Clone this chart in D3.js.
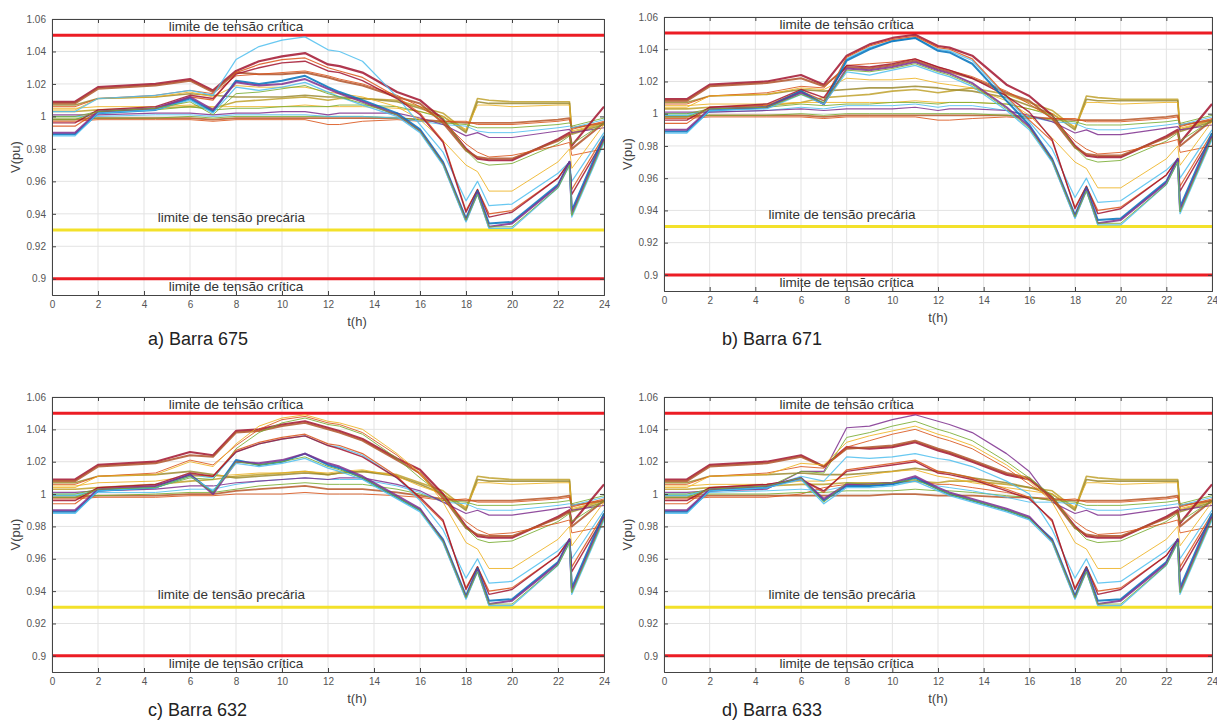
<!DOCTYPE html>
<html>
<head>
<meta charset="utf-8">
<script src="https://cdn.jsdelivr.net/npm/d3@7/dist/d3.min.js"></script>
<style>
  body { margin: 0; background: #fff; }
  text { font-family: "Liberation Sans", Arial, sans-serif; }
</style>
</head>
<body>
<svg id="fig" width="1217" height="720"></svg>
<script>
// hours of the day sampled in the simulation
var hoursDay = [0, 1, 2, 4.5, 6, 7, 8, 9, 10, 11, 12, 12.5, 13.5, 15, 16, 17]
var hoursEvening = [18, 18.5, 19, 20, 22, 22.5, 22.6, 24]

var xTicks = [0, 2, 4, 6, 8, 10, 12, 14, 16, 18, 20, 22, 24]
var yTicks = [0.9, 0.92, 0.94, 0.96, 0.98, 1, 1.02, 1.04, 1.06]

var limitValues = [1.05, 0.93, 0.9]
var limitLabels = ["limite de tensão crítica", "limite de tensão precária", "limite de tensão crítica"]
var captions = ["a) Barra 675", "b) Barra 671", "c) Barra 632", "d) Barra 633"]

// 18h..24h, same in the four buses
var voltsEvening = [
  [0.991, 1.011, 1.010, 1.009, 1.009, 1.009, 0.990, 0.996],
  [0.990, 1.009, 1.008, 1.008, 1.008, 1.008, 0.989, 0.995],
  [0.992, 1.007, 1.007, 1.006, 1.007, 1.007, 0.991, 0.996],
  [0.996, 0.996, 0.996, 0.996, 0.998, 0.999, 0.993, 0.996],
  [0.997, 0.995, 0.995, 0.995, 0.997, 0.998, 0.992, 0.997],
  [0.995, 0.993, 0.993, 0.993, 0.995, 0.996, 0.994, 0.999],
  [0.994, 0.991, 0.990, 0.990, 0.993, 0.994, 0.993, 0.998],
  [0.988, 0.990, 0.987, 0.987, 0.991, 0.992, 0.990, 0.993],
  [0.980, 0.974, 0.973, 0.973, 0.986, 0.990, 0.982, 1.006],
  [0.979, 0.975, 0.974, 0.974, 0.985, 0.989, 0.980, 0.996],
  [0.979, 0.972, 0.970, 0.971, 0.983, 0.988, 0.983, 0.996],
  [0.983, 0.978, 0.975, 0.976, 0.982, 0.984, 0.976, 0.980],
  [0.970, 0.966, 0.954, 0.954, 0.972, 0.980, 0.968, 0.995],
  [0.948, 0.960, 0.945, 0.946, 0.965, 0.972, 0.960, 0.990],
  [0.942, 0.955, 0.940, 0.942, 0.962, 0.972, 0.955, 0.988],
  [0.941, 0.955, 0.938, 0.941, 0.962, 0.972, 0.952, 0.986],
  [0.937, 0.954, 0.934, 0.935, 0.958, 0.972, 0.942, 0.988],
  [0.936, 0.953, 0.932, 0.934, 0.957, 0.972, 0.940, 0.986],
  [0.935, 0.952, 0.931, 0.931, 0.956, 0.970, 0.938, 0.984],
  [0.936, 0.952, 0.932, 0.932, 0.956, 0.970, 0.939, 0.985]
]

// 0h..17h, Barra 675
var voltsA = [
  [1.003, 1.003, 1.004, 1.005, 1.006, 1.005, 1.009, 1.010, 1.011, 1.012, 1.010, 1.011, 1.011, 1.010, 1.006, 1.002],
  [1.007, 1.007, 1.011, 1.012, 1.014, 1.013, 1.012, 1.012, 1.012, 1.013, 1.012, 1.012, 1.011, 1.009, 1.005, 1.000],
  [1.005, 1.005, 1.006, 1.006, 1.007, 1.006, 1.006, 1.006, 1.006, 1.007, 1.006, 1.006, 1.006, 1.005, 1.003, 1.000],
  [0.998, 0.998, 0.999, 0.999, 0.999, 0.998, 0.999, 0.999, 0.999, 0.999, 0.999, 0.999, 0.999, 0.999, 0.998, 0.997],
  [0.997, 0.997, 0.998, 0.998, 0.998, 0.997, 0.998, 0.998, 0.998, 0.998, 0.995, 0.995, 0.997, 0.998, 0.997, 0.997],
  [0.999, 0.999, 0.999, 0.999, 1.000, 0.999, 1.000, 1.000, 1.000, 1.000, 1.000, 1.000, 1.000, 0.999, 0.998, 0.996],
  [1.000, 1.000, 1.000, 1.001, 1.001, 1.000, 1.001, 1.001, 1.001, 1.001, 1.000, 1.000, 1.000, 0.999, 0.997, 0.995],
  [1.001, 1.001, 1.001, 1.002, 1.002, 1.001, 1.002, 1.002, 1.003, 1.003, 1.001, 1.002, 1.002, 1.002, 0.999, 0.995],
  [1.009, 1.009, 1.018, 1.020, 1.023, 1.016, 1.028, 1.034, 1.037, 1.039, 1.032, 1.031, 1.027, 1.015, 1.010, 0.998],
  [1.008, 1.008, 1.017, 1.019, 1.022, 1.015, 1.027, 1.026, 1.026, 1.027, 1.024, 1.022, 1.019, 1.012, 1.008, 0.996],
  [1.000, 1.000, 1.003, 1.004, 1.006, 1.004, 1.005, 1.005, 1.006, 1.006, 1.006, 1.007, 1.007, 1.006, 1.003, 0.999],
  [1.006, 1.006, 1.011, 1.013, 1.016, 1.014, 1.025, 1.026, 1.027, 1.028, 1.025, 1.023, 1.020, 1.013, 1.006, 0.997],
  [1.004, 1.004, 1.011, 1.012, 1.015, 1.012, 1.019, 1.018, 1.018, 1.018, 1.015, 1.014, 1.012, 1.006, 0.998, 0.985],
  [1.003, 1.003, 1.011, 1.013, 1.016, 1.013, 1.035, 1.043, 1.047, 1.049, 1.041, 1.040, 1.034, 1.012, 0.995, 0.978],
  [0.994, 0.994, 1.003, 1.005, 1.012, 1.010, 1.027, 1.032, 1.035, 1.036, 1.030, 1.028, 1.024, 1.012, 1.002, 0.985],
  [0.996, 0.996, 1.004, 1.006, 1.013, 1.011, 1.026, 1.030, 1.033, 1.034, 1.028, 1.027, 1.022, 1.011, 1.001, 0.984],
  [0.989, 0.989, 1.002, 1.004, 1.011, 1.003, 1.022, 1.020, 1.022, 1.025, 1.018, 1.015, 1.010, 1.002, 0.992, 0.972],
  [0.990, 0.990, 1.003, 1.005, 1.012, 1.004, 1.021, 1.019, 1.020, 1.023, 1.017, 1.014, 1.009, 1.001, 0.991, 0.971],
  [0.988, 0.988, 1.002, 1.004, 1.010, 1.002, 1.018, 1.016, 1.018, 1.021, 1.015, 1.012, 1.007, 1.000, 0.990, 0.970],
  [0.998, 0.998, 1.003, 1.005, 1.009, 1.001, 1.014, 1.015, 1.017, 1.019, 1.014, 1.012, 1.008, 1.001, 0.991, 0.971]
]

// 0h..17h, Barra 671
var voltsB = [
  [1.003, 1.003, 1.004, 1.005, 1.007, 1.010, 1.011, 1.012, 1.014, 1.015, 1.013, 1.014, 1.016, 1.012, 1.007, 1.002],
  [1.007, 1.007, 1.011, 1.012, 1.015, 1.014, 1.015, 1.016, 1.016, 1.017, 1.016, 1.015, 1.014, 1.010, 1.005, 1.000],
  [1.005, 1.005, 1.006, 1.006, 1.007, 1.007, 1.007, 1.007, 1.007, 1.008, 1.007, 1.007, 1.007, 1.006, 1.003, 1.000],
  [0.998, 0.998, 0.999, 0.999, 0.999, 0.998, 0.999, 0.999, 0.999, 0.999, 0.999, 0.999, 0.999, 0.999, 0.998, 0.997],
  [0.997, 0.997, 0.998, 0.998, 0.998, 0.997, 0.998, 0.998, 0.998, 0.998, 0.996, 0.996, 0.997, 0.998, 0.997, 0.997],
  [0.999, 0.999, 0.999, 0.999, 1.000, 0.999, 1.000, 1.000, 1.000, 1.000, 1.000, 1.000, 1.000, 0.999, 0.998, 0.996],
  [1.000, 1.000, 1.001, 1.002, 1.004, 1.003, 1.005, 1.005, 1.005, 1.006, 1.004, 1.005, 1.005, 1.002, 0.998, 0.995],
  [1.001, 1.001, 1.001, 1.002, 1.003, 1.002, 1.003, 1.003, 1.003, 1.004, 1.002, 1.003, 1.003, 1.002, 0.999, 0.995],
  [1.009, 1.009, 1.018, 1.020, 1.024, 1.018, 1.036, 1.043, 1.047, 1.049, 1.042, 1.041, 1.036, 1.018, 1.011, 0.999],
  [1.008, 1.008, 1.017, 1.019, 1.022, 1.017, 1.029, 1.028, 1.030, 1.033, 1.028, 1.026, 1.022, 1.013, 1.008, 0.997],
  [1.000, 1.000, 1.003, 1.004, 1.006, 1.005, 1.006, 1.006, 1.007, 1.007, 1.006, 1.007, 1.007, 1.006, 1.003, 0.999],
  [1.006, 1.006, 1.011, 1.013, 1.017, 1.016, 1.030, 1.031, 1.032, 1.034, 1.029, 1.027, 1.023, 1.014, 1.006, 0.997],
  [1.004, 1.004, 1.011, 1.012, 1.016, 1.015, 1.022, 1.021, 1.021, 1.022, 1.019, 1.018, 1.016, 1.008, 0.999, 0.985],
  [0.999, 0.999, 1.002, 1.004, 1.013, 1.008, 1.034, 1.041, 1.045, 1.047, 1.040, 1.039, 1.033, 1.010, 0.995, 0.978],
  [0.994, 0.994, 1.004, 1.005, 1.014, 1.008, 1.035, 1.042, 1.046, 1.048, 1.041, 1.040, 1.034, 1.011, 0.996, 0.983],
  [0.996, 0.996, 1.004, 1.006, 1.015, 1.010, 1.030, 1.029, 1.031, 1.034, 1.029, 1.027, 1.022, 1.011, 1.001, 0.984],
  [0.989, 0.989, 1.002, 1.004, 1.014, 1.006, 1.033, 1.040, 1.045, 1.047, 1.039, 1.038, 1.031, 1.008, 0.993, 0.972],
  [0.990, 0.990, 1.003, 1.004, 1.013, 1.006, 1.028, 1.027, 1.029, 1.032, 1.027, 1.025, 1.019, 1.004, 0.992, 0.971],
  [0.988, 0.988, 1.002, 1.003, 1.012, 1.006, 1.026, 1.024, 1.027, 1.030, 1.025, 1.023, 1.017, 1.002, 0.990, 0.970],
  [0.998, 0.998, 1.003, 1.004, 1.012, 1.007, 1.027, 1.026, 1.028, 1.031, 1.026, 1.024, 1.018, 1.003, 0.991, 0.971]
]

// 0h..17h, Barra 632
var voltsC = [
  [1.003, 1.003, 1.004, 1.006, 1.008, 1.009, 1.011, 1.012, 1.013, 1.014, 1.012, 1.013, 1.014, 1.012, 1.007, 1.002],
  [1.007, 1.007, 1.011, 1.012, 1.014, 1.012, 1.010, 1.011, 1.012, 1.013, 1.012, 1.013, 1.014, 1.011, 1.006, 1.000],
  [1.005, 1.005, 1.007, 1.008, 1.011, 1.011, 1.012, 1.013, 1.013, 1.014, 1.013, 1.014, 1.015, 1.011, 1.005, 1.000],
  [0.998, 0.998, 0.999, 0.999, 1.000, 1.000, 1.002, 1.003, 1.004, 1.005, 1.003, 1.003, 1.003, 1.001, 0.999, 0.997],
  [0.997, 0.997, 0.998, 0.998, 0.999, 0.999, 1.000, 1.000, 1.000, 1.001, 1.000, 1.000, 1.000, 0.999, 0.998, 0.996],
  [0.999, 0.999, 0.999, 1.000, 1.001, 1.001, 1.003, 1.005, 1.006, 1.007, 1.006, 1.006, 1.006, 1.003, 1.000, 0.996],
  [1.000, 1.000, 1.001, 1.001, 1.003, 1.003, 1.006, 1.008, 1.009, 1.010, 1.009, 1.009, 1.009, 1.005, 1.001, 0.995],
  [1.001, 1.001, 1.002, 1.003, 1.005, 1.005, 1.007, 1.008, 1.009, 1.010, 1.009, 1.010, 1.010, 1.006, 1.002, 0.995],
  [1.009, 1.009, 1.018, 1.020, 1.026, 1.024, 1.039, 1.040, 1.043, 1.045, 1.041, 1.039, 1.034, 1.022, 1.015, 1.000],
  [1.008, 1.008, 1.017, 1.019, 1.024, 1.023, 1.038, 1.039, 1.042, 1.044, 1.040, 1.038, 1.033, 1.021, 1.013, 0.998],
  [1.000, 1.000, 1.003, 1.004, 1.010, 1.009, 1.028, 1.038, 1.044, 1.047, 1.043, 1.042, 1.037, 1.022, 1.010, 0.999],
  [1.006, 1.006, 1.011, 1.013, 1.021, 1.018, 1.030, 1.040, 1.046, 1.048, 1.044, 1.043, 1.038, 1.024, 1.012, 0.997],
  [1.004, 1.004, 1.011, 1.012, 1.020, 1.017, 1.031, 1.042, 1.047, 1.049, 1.045, 1.044, 1.040, 1.025, 1.013, 0.995],
  [0.999, 0.999, 1.002, 1.004, 1.012, 1.010, 1.026, 1.031, 1.034, 1.036, 1.030, 1.029, 1.024, 1.010, 0.996, 0.978],
  [0.994, 0.994, 1.004, 1.005, 1.012, 1.011, 1.027, 1.032, 1.035, 1.037, 1.031, 1.030, 1.025, 1.011, 0.997, 0.983],
  [0.996, 0.996, 1.004, 1.006, 1.013, 1.011, 1.026, 1.031, 1.034, 1.036, 1.030, 1.028, 1.023, 1.010, 0.998, 0.984],
  [0.989, 0.989, 1.002, 1.004, 1.012, 1.001, 1.021, 1.018, 1.020, 1.025, 1.018, 1.016, 1.010, 0.998, 0.990, 0.972],
  [0.990, 0.990, 1.003, 1.005, 1.012, 1.000, 1.020, 1.019, 1.021, 1.025, 1.019, 1.017, 1.011, 0.999, 0.991, 0.971],
  [0.988, 0.988, 1.002, 1.004, 1.011, 1.002, 1.019, 1.017, 1.019, 1.022, 1.016, 1.014, 1.009, 0.997, 0.989, 0.970],
  [0.998, 0.998, 1.003, 1.004, 1.011, 1.001, 1.020, 1.018, 1.020, 1.023, 1.017, 1.015, 1.010, 0.998, 0.990, 0.971]
]

// 0h..17h, Barra 633
var voltsD = [
  [1.003, 1.003, 1.004, 1.005, 1.006, 1.006, 1.007, 1.007, 1.007, 1.008, 1.007, 1.008, 1.008, 1.006, 1.004, 1.002],
  [1.007, 1.007, 1.011, 1.012, 1.013, 1.012, 1.012, 1.013, 1.014, 1.016, 1.014, 1.013, 1.010, 1.007, 1.004, 1.000],
  [1.005, 1.005, 1.006, 1.006, 1.008, 1.008, 1.010, 1.012, 1.014, 1.015, 1.011, 1.010, 1.007, 1.004, 1.002, 1.000],
  [0.998, 0.998, 0.999, 0.999, 0.999, 0.999, 0.999, 0.999, 1.000, 1.000, 0.999, 0.999, 0.999, 0.998, 0.998, 0.997],
  [0.997, 0.997, 0.998, 0.998, 1.000, 1.004, 1.006, 1.006, 1.007, 1.008, 1.006, 1.006, 1.004, 1.001, 0.998, 0.996],
  [0.999, 0.999, 1.000, 1.000, 1.001, 1.001, 1.002, 1.002, 1.002, 1.003, 1.002, 1.002, 1.001, 0.999, 0.998, 0.996],
  [1.000, 1.000, 1.001, 1.002, 1.003, 1.002, 1.005, 1.005, 1.006, 1.008, 1.005, 1.004, 1.002, 0.998, 0.995, 0.995],
  [1.001, 1.001, 1.002, 1.003, 1.014, 1.014, 1.041, 1.042, 1.046, 1.049, 1.045, 1.043, 1.038, 1.025, 1.014, 0.995],
  [1.009, 1.009, 1.018, 1.020, 1.024, 1.017, 1.029, 1.028, 1.029, 1.032, 1.027, 1.025, 1.020, 1.012, 1.009, 0.998],
  [1.008, 1.008, 1.017, 1.019, 1.023, 1.017, 1.028, 1.029, 1.030, 1.033, 1.028, 1.026, 1.021, 1.013, 1.010, 0.997],
  [1.000, 1.000, 1.003, 1.004, 1.014, 1.013, 1.035, 1.038, 1.042, 1.045, 1.040, 1.038, 1.033, 1.020, 1.010, 0.999],
  [1.006, 1.006, 1.011, 1.013, 1.017, 1.016, 1.029, 1.033, 1.037, 1.040, 1.035, 1.033, 1.028, 1.016, 1.006, 0.997],
  [1.004, 1.004, 1.011, 1.012, 1.019, 1.018, 1.032, 1.036, 1.039, 1.042, 1.037, 1.035, 1.030, 1.018, 1.008, 0.995],
  [0.999, 0.999, 1.003, 1.004, 1.011, 1.008, 1.023, 1.022, 1.023, 1.025, 1.022, 1.021, 1.017, 1.008, 1.000, 0.978],
  [0.994, 0.994, 1.004, 1.006, 1.009, 1.001, 1.015, 1.017, 1.019, 1.021, 1.014, 1.013, 1.010, 1.003, 0.998, 0.983],
  [0.996, 0.996, 1.004, 1.006, 1.009, 1.002, 1.014, 1.016, 1.018, 1.020, 1.013, 1.012, 1.009, 1.002, 0.997, 0.984],
  [0.989, 0.989, 1.002, 1.004, 1.010, 0.996, 1.005, 1.005, 1.006, 1.010, 1.003, 1.000, 0.996, 0.990, 0.985, 0.972],
  [0.990, 0.990, 1.003, 1.005, 1.010, 0.997, 1.006, 1.006, 1.007, 1.011, 1.004, 1.001, 0.997, 0.991, 0.986, 0.971],
  [0.988, 0.988, 1.002, 1.004, 1.009, 0.994, 1.004, 1.004, 1.005, 1.008, 1.002, 0.999, 0.995, 0.989, 0.984, 0.970],
  [0.998, 0.998, 1.003, 1.005, 1.010, 0.995, 1.007, 1.006, 1.007, 1.009, 1.003, 1.000, 0.996, 0.990, 0.985, 0.971]
]

// matlab-ish line colours, one per curve
var lineColors = ["#c0a12c", "#9c8b30", "#EDB120", "#b8582a", "#D95319", "#77AC30", "#4DBEEE",
                  "#7E2F8E", "#A2142F", "#b0532a", "#77AC30", "#D95319", "#EDB120", "#4DBEEE",
                  "#D95319", "#A2142F", "#0072BD", "#7E2F8E", "#4DBEEE", "#77AC30"]
var lineWidths = [1.6, 1.6, 1, 1.8, 1, 1, 1, 1.2, 2.2, 2, 1, 1, 1, 1.2, 1.2, 1.4, 2, 2, 1.3, 1]

var hours = hoursDay.concat(hoursEvening)

var svg = d3.select("#fig")

function drawPanel(p) {
    var x = d3.scaleLinear().domain([0, 24]).range([0, p.w])
    var y = d3.scaleLinear().domain([0.89, 1.06]).range([p.h, 0])
    var g = svg.append("g").attr("transform", "translate(" + p.left + "," + p.top + ")")

    // grid
    g.append("g").selectAll("line").data(xTicks).enter().append("line")
        .attr("x1", function(d) { return x(d) }).attr("x2", function(d) { return x(d) })
        .attr("y1", 0).attr("y2", p.h)
        .attr("stroke", "#e3e3e3").attr("stroke-width", 1)
    g.append("g").selectAll("line").data(yTicks).enter().append("line")
        .attr("x1", 0).attr("x2", p.w)
        .attr("y1", function(d) { return y(d) }).attr("y2", function(d) { return y(d) })
        .attr("stroke", "#e3e3e3").attr("stroke-width", 1)

    // limit lines
    var limColors = ["#ec1c24", "#f3e12a", "#ec1c24"]
    g.append("g").selectAll("line").data(limitValues).enter().append("line")
        .attr("x1", 0).attr("x2", p.w)
        .attr("y1", function(d) { return y(d) }).attr("y2", function(d) { return y(d) })
        .attr("stroke", function(d, i) { return limColors[i] })
        .attr("stroke-width", 3)

    var line = d3.line()
        .x(function(d, i) { return x(hours[i]) })
        .y(function(d) { return y(d) })

    var series = p.day.map(function(s, i) { return s.concat(voltsEvening[i]) })
    g.append("g").selectAll("path").data(series).enter().append("path")
        .attr("d", line)
        .attr("fill", "none")
        .attr("stroke", function(d, i) { return lineColors[i] })
        .attr("stroke-width", function(d, i) { return lineWidths[i] })
        .attr("stroke-opacity", 0.85)
        .attr("stroke-linejoin", "round")

    // limit labels
    var labelT = [8.0, 7.8, 8.0]
    var labelDy = [-4, -8, 12]
    g.append("g").selectAll("text").data(limitLabels).enter().append("text")
        .attr("x", function(d, i) { return x(labelT[i]) })
        .attr("y", function(d, i) { return y(limitValues[i]) + labelDy[i] })
        .attr("text-anchor", "middle")
        .attr("font-size", "13.5px")
        .attr("fill", "#333")
        .text(function(d) { return d })

    // axes, matlab style ticks pointing inwards
    var tickFmt = function(d) { return d3.format("")(+d.toFixed(2)) }
    g.append("g").attr("transform", "translate(0," + p.h + ")")
        .call(d3.axisBottom(x).tickValues(xTicks).tickSize(-4).tickPadding(6))
    g.append("g").call(d3.axisTop(x).tickValues(xTicks).tickSize(-4).tickFormat(""))
    g.append("g").call(d3.axisLeft(y).tickValues(yTicks).tickSize(-4).tickPadding(6).tickFormat(tickFmt))
    g.append("g").attr("transform", "translate(" + p.w + ",0)")
        .call(d3.axisRight(y).tickValues(yTicks).tickSize(-4).tickFormat(""))
    g.selectAll(".domain").attr("stroke", "#444")
    g.selectAll(".tick line").attr("stroke", "#444")
    g.selectAll(".tick text").attr("fill", "#555").attr("font-size", "10px")
        .attr("font-family", "'Liberation Sans', Arial, sans-serif")

    g.append("text")
        .attr("transform", "translate(-32," + (p.h / 2) + ") rotate(-90)")
        .attr("text-anchor", "middle")
        .attr("font-size", "13px").attr("fill", "#444")
        .text("V(pu)")
    g.append("text")
        .attr("x", p.tx - p.left).attr("y", p.h + 31)
        .attr("text-anchor", "middle")
        .attr("font-size", "13px").attr("fill", "#444")
        .text("t(h)")

    svg.append("text")
        .attr("x", p.cx).attr("y", p.cy)
        .attr("font-family", "'Open Sans', sans-serif")
        .attr("font-size", "18px").attr("fill", "#222")
        .text(p.caption)
}

var panels = [
    {left: 52, top: 19, w: 552, h: 276, day: voltsA, caption: captions[0], cx: 148, cy: 345, tx: 357},
    {left: 664, top: 17, w: 548, h: 274, day: voltsB, caption: captions[1], cx: 722, cy: 345, tx: 938},
    {left: 52, top: 397, w: 552, h: 275, day: voltsC, caption: captions[2], cx: 148, cy: 716, tx: 357},
    {left: 664, top: 397, w: 548, h: 275, day: voltsD, caption: captions[3], cx: 722, cy: 716, tx: 938}
]
panels.forEach(drawPanel)
</script>
</body>
</html>
